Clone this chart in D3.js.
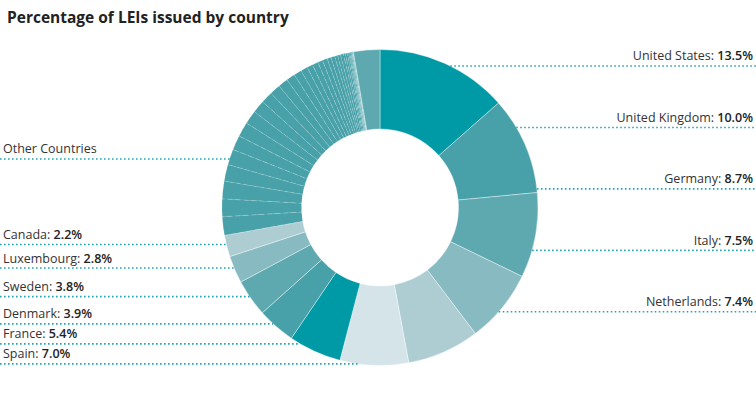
<!DOCTYPE html>
<html>
<head>
<meta charset="utf-8">
<script src="https://cdn.jsdelivr.net/npm/d3@7"></script>
<style>
body { margin: 0; background: #fff; }
text { font-family: "Open Sans", sans-serif; }
</style>
</head>
<body>
<div id="chart"></div>
<script>
// labelled countries, clockwise from 12 o'clock
var countries = ["United States", "United Kingdom", "Germany", "Italy", "Netherlands",
                 "Spain", "France", "Denmark", "Sweden", "Luxembourg", "Canada"];
var shares = [13.5, 10.0, 8.7, 7.5, 7.4, 7.0, 5.4, 3.9, 3.8, 2.8, 2.2];
var sliceColors = ["#009aa6", "#48a1a9", "#5ea9b0", "#88bac2", "#adcdd3",
                   "#d4e4e8", "#009aa6", "#48a1a9", "#5ea9b0", "#88bac2", "#adcdd3"];
// the unlabelled "Other Countries" slices (estimated)
var otherShares = [1.9, 1.8, 1.8, 1.7, 1.6, 1.5, 1.5, 1.4, 1.3, 1.2, 1.1, 1.0, 0.9, 0.8, 0.7,
                   0.6, 0.6, 0.5, 0.5, 0.4, 0.4, 0.3, 0.3, 0.3, 0.2, 0.2, 0.15, 0.1, 0.1,
                   0.08, 0.06, 0.05, 0.04, 0.03, 0.02];
var lastShare = 2.7;
var otherLabel = "Other Countries";

function init(){

var w = 756;
var h = 393;
var cx = 380, cy = 207.5;
var rOut = 158, rIn = 78.5;
var lineColor = "#22a6b5";

var svg = d3.select("#chart")
    .append("svg")
    .attr("width", w)
    .attr("height", h);

svg.append("text")
    .attr("x", 7)
    .attr("y", 23)
    .attr("font-size", 15.5)
    .attr("font-weight", 700)
    .attr("fill", "#222")
    .text("Percentage of LEIs issued by country");

var data = [];
countries.forEach(function(c, i){
    data.push({name: c, value: shares[i], color: sliceColors[i], kind: "main"});
});
otherShares.forEach(function(v, i){
    data.push({name: "other" + i, value: v, color: "#48a1a9", kind: "other"});
});
data.push({name: "rest", value: lastShare, color: "#5ea9b0", kind: "rest"});

var pie = d3.pie().sort(null).value(function(d){ return d.value; });
var arcs = pie(data);
var arc = d3.arc().innerRadius(rIn).outerRadius(rOut);

var g = svg.append("g").attr("transform", "translate(" + cx + "," + cy + ")");

g.selectAll("path")
    .data(arcs)
    .enter()
    .append("path")
    .attr("d", arc)
    .attr("fill", function(d){ return d.data.color; })
    .attr("stroke", function(d){
        return d.data.kind == "other" ? "rgba(255,255,255,0.3)" : "rgba(255,255,255,0.55)";
    })
    .attr("stroke-width", function(d){ return d.data.kind == "other" ? 0.6 : 0.7; })
    .attr("stroke-dasharray", function(d){
        return d.data.kind == "other" ? "5,3" : null;
    });

// label layout
function midY(a){
    var m = (a.startAngle + a.endAngle) / 2;
    return cy - rOut * Math.cos(m);
}
var mains = arcs.filter(function(a){ return a.data.kind == "main"; });
var right = mains.filter(function(a){ return (a.startAngle + a.endAngle) / 2 < Math.PI; });
var left = mains.filter(function(a){ return (a.startAngle + a.endAngle) / 2 >= Math.PI; });

// right side: spread evenly between first slice and lower limit
var yTop = midY(right[0]) + 2.5;
var yBot = cy + 0.66 * rOut;
right.forEach(function(a, i){
    a.ly = yTop + i * (yBot - yTop) / (right.length - 1);
    a.side = "right";
});
// left side: from bottom up, keep a minimum gap
var prev = null;
for (var i = 0; i < left.length; i++){
    var y = midY(left[i]) - 1.5;
    if (prev !== null) y = Math.min(y, prev - 20);
    left[i].ly = y;
    left[i].side = "left";
    prev = y;
}

var labels = right.concat(left).map(function(a){
    return {name: a.data.name, value: a.data.value, y: a.ly, side: a.side};
});

// "Other Countries" label
var oStart = arcs.filter(function(a){ return a.data.kind == "other"; })[0].startAngle;
var oAng = oStart + 0.28 * (2 * Math.PI - oStart);
labels.push({name: otherLabel, value: null, y: cy - rOut * Math.cos(oAng), side: "left"});

function arcX(y, side){
    var dx = Math.sqrt(Math.max(0, rOut * rOut - (y - cy) * (y - cy)));
    return side == "right" ? cx + dx : cx - dx;
}

svg.selectAll("line.leader")
    .data(labels)
    .enter()
    .append("line")
    .attr("class", "leader")
    .attr("x1", function(d){ return d.side == "right" ? arcX(d.y, "right") : 0; })
    .attr("x2", function(d){ return d.side == "right" ? w : arcX(d.y, "left"); })
    .attr("y1", function(d){ return d.y; })
    .attr("y2", function(d){ return d.y; })
    .attr("stroke", lineColor)
    .attr("stroke-width", 1.6)
    .attr("stroke-dasharray", "1.6,2.4");

var t = svg.selectAll("text.lab")
    .data(labels)
    .enter()
    .append("text")
    .attr("class", "lab")
    .attr("x", function(d){ return d.side == "right" ? 753 : 3; })
    .attr("y", function(d){ return d.y - 5.5; })
    .attr("text-anchor", function(d){ return d.side == "right" ? "end" : "start"; })
    .attr("font-size", 12.5)
    .attr("fill", "#333");

t.append("tspan")
    .text(function(d){ return d.value === null ? d.name : d.name + ": "; });
t.append("tspan")
    .attr("font-weight", 600)
    .attr("fill", "#222")
    .text(function(d){ return d.value === null ? "" : d.value.toFixed(1) + "%"; });
}

window.onload = init;
</script>
</body>
</html>
